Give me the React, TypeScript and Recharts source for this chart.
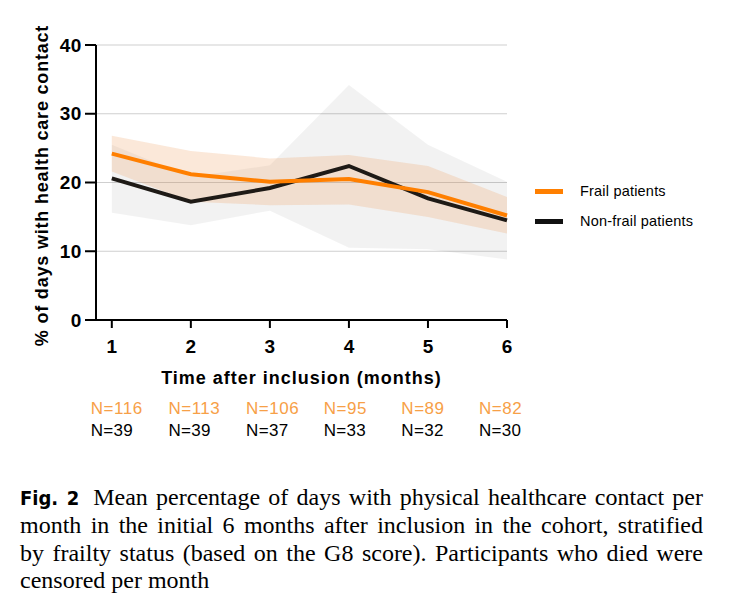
import { ComposedChart, Line, Area, XAxis, YAxis, CartesianGrid } from 'recharts'

const months = [1, 2, 3, 4, 5, 6]
const frailMean = [24.2, 21.2, 20.1, 20.5, 18.6, 15.2]
const frailUpper = [26.8, 24.6, 23.5, 24.0, 22.4, 17.9]
const frailLower = [21.6, 17.2, 16.7, 16.8, 15.0, 12.6]
const nonFrailMean = [20.6, 17.2, 19.2, 22.4, 17.7, 14.5]
const nonFrailUpper = [25.5, 20.8, 22.5, 34.2, 25.5, 20.1]
const nonFrailLower = [15.6, 13.8, 15.9, 10.5, 10.3, 8.8]
const nFrail = [116, 113, 106, 95, 89, 82]
const nNonFrail = [39, 39, 37, 33, 32, 30]
const yTicks = [0, 10, 20, 30, 40]

const captionLines = [
  'Mean percentage of days with physical healthcare contact per',
  'month in the initial 6 months after inclusion in the cohort, stratified',
  'by frailty status (based on the G8 score). Participants who died were',
  'censored per month',
]

const ORANGE = '#ff7f00'
const N_ORANGE = '#f7a047'
const DARK = '#1e1a16'
const SANS = 'Liberation Sans, Arial, sans-serif'

const data = months.map((m, i) => ({
  month: m,
  frail: frailMean[i],
  frailCI: [frailLower[i], frailUpper[i]],
  nonFrail: nonFrailMean[i],
  nonFrailCI: [nonFrailLower[i], nonFrailUpper[i]],
}))

const legendItems = [
  { name: 'Frail patients', color: ORANGE },
  { name: 'Non-frail patients', color: '#111' },
]

function MonthTick(props: any) {
  const { x, y, payload } = props
  const i = months.indexOf(payload.value)
  const left = x - 21 - i * 1.4
  return (
    <g fontFamily={SANS}>
      <text x={x} y={y} dy={25} textAnchor="middle" fontSize={19} fontWeight="bold" fill="#000">
        {payload.value}
      </text>
      <text x={left} y={y} dy={86} fontSize={17} letterSpacing={0.5} fill={N_ORANGE}>
        N={nFrail[i]}
      </text>
      <text x={left} y={y} dy={108} fontSize={17} letterSpacing={0.3} fill="#000">
        N={nNonFrail[i]}
      </text>
    </g>
  )
}

function YTitle(props: any) {
  const { viewBox } = props
  const cx = 42
  const cy = viewBox.y + viewBox.height / 2 + 3
  return (
    <text
      x={cx}
      y={cy}
      transform={`rotate(-90 ${cx} ${cy})`}
      textAnchor="middle"
      dominantBaseline="central"
      fontSize={18}
      fontWeight="bold"
      letterSpacing={0.8}
      fill="#000"
      fontFamily={SANS}
    >
      % of days with health care contact
    </text>
  )
}

function XTitle(props: any) {
  const { viewBox } = props
  return (
    <text
      x={viewBox.x + viewBox.width / 2}
      y={384}
      textAnchor="middle"
      fontSize={18}
      fontWeight="bold"
      letterSpacing={1}
      fill="#000"
      fontFamily={SANS}
    >
      Time after inclusion (months)
    </text>
  )
}

export default function App() {
  return (
    <div style={{ position: 'absolute', left: 0, top: 0, width: 732, height: 610, background: '#fff' }}>
      <ComposedChart
        width={732}
        height={450}
        data={data}
        margin={{ top: 45, right: 225, left: 36, bottom: 10 }}
      >
        <CartesianGrid horizontal vertical={false} stroke="#cfcfcf" strokeWidth={1} />
        <XAxis
          dataKey="month"
          type="number"
          domain={[0.8, 6]}
          ticks={months}
          height={120}
          tickSize={8}
          tickMargin={0}
          axisLine={{ stroke: '#000', strokeWidth: 2 }}
          tickLine={{ stroke: '#000', strokeWidth: 2 }}
          tick={<MonthTick />}
          label={<XTitle />}
        />
        <YAxis
          type="number"
          domain={[0, 40]}
          ticks={yTicks}
          width={60}
          tickSize={11}
          tickMargin={3}
          axisLine={{ stroke: '#000', strokeWidth: 2 }}
          tickLine={{ stroke: '#000', strokeWidth: 2 }}
          tick={{ fontSize: 19, fontWeight: 'bold', fill: '#000', fontFamily: SANS, letterSpacing: 0.6 }}
          label={<YTitle />}
        />
        <Area
          dataKey="nonFrailCI"
          stroke="none"
          fill="#000"
          fillOpacity={0.05}
          isAnimationActive={false}
          activeDot={false}
        />
        <Line
          dataKey="nonFrail"
          stroke={DARK}
          strokeWidth={4}
          dot={false}
          isAnimationActive={false}
        />
        <Area
          dataKey="frailCI"
          stroke="none"
          fill="#f0a060"
          fillOpacity={0.24}
          isAnimationActive={false}
          activeDot={false}
        />
        <Line
          dataKey="frail"
          stroke={ORANGE}
          strokeWidth={4}
          dot={false}
          isAnimationActive={false}
        />
      </ComposedChart>

      <div style={{ position: 'absolute', left: 535, top: 180, fontFamily: SANS, fontSize: 14.5, color: '#000' }}>
        {legendItems.map((it) => (
          <div key={it.name} style={{ display: 'flex', alignItems: 'center', height: 22, marginBottom: 8 }}>
            <span style={{ display: 'inline-block', width: 28, height: 5, background: it.color, marginRight: 17 }} />
            <span style={{ letterSpacing: 0.2 }}>{it.name}</span>
          </div>
        ))}
      </div>

      <div
        style={{
          position: 'absolute',
          left: 20,
          top: 484,
          width: 683,
          fontFamily: 'Liberation Serif, Times New Roman, serif',
          fontSize: 24,
          lineHeight: '27.3px',
          color: '#000',
        }}
      >
        {captionLines.map((line, i) => (
          <div
            key={i}
            style={{
              textAlign: i < captionLines.length - 1 ? 'justify' : 'left',
              textAlignLast: i < captionLines.length - 1 ? 'justify' : 'left',
              whiteSpace: 'nowrap',
            }}
          >
            {i === 0 && (
              <span
                style={{
                  fontFamily: 'DejaVu Sans Condensed, Liberation Sans Narrow, sans-serif',
                  fontWeight: 'bold',
                  fontSize: 20,
                  marginRight: 14,
                }}
              >
                Fig. 2
              </span>
            )}
            {line}
          </div>
        ))}
      </div>
    </div>
  )
}
